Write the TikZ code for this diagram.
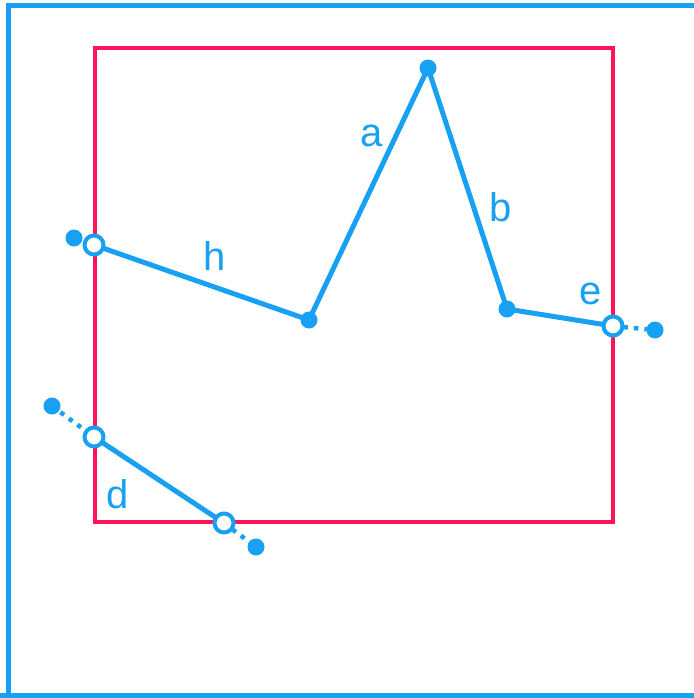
\documentclass[tikz,border=0pt]{standalone}
\usepackage{fontspec}
\setmainfont{Liberation Sans}
\definecolor{bl}{RGB}{24,160,242}
\definecolor{rd}{RGB}{255,20,90}
\begin{document}
\begin{tikzpicture}[x=1pt,y=-1pt,
  seg/.style={bl,line width=5pt},
  dots/.style={bl,line width=4.5pt,dash pattern=on 4.5pt off 6pt},
  fdot/.style={circle,fill=bl,inner sep=0pt,minimum size=17pt},
  odot/.style={circle,draw=bl,fill=white,line width=4pt,inner sep=0pt,minimum size=19pt},
  lbl/.style={text=bl,font=\fontsize{40}{40}\selectfont,inner sep=0pt}]
\useasboundingbox (0,0) rectangle (693,698);
\draw[bl,line width=5pt] (8.5,730) -- (8.5,5.5) -- (730,5.5);
\draw[bl,line width=5pt] (0,695.5) -- (730,695.5);
\draw[rd,line width=4pt] (95,48) rectangle (613,522);
% chain
\node[fdot] (h0) at (74,238) {};
\node[fdot] (v1) at (309,320) {};
\node[fdot] (v2) at (428,68) {};
\node[fdot] (v3) at (507,309) {};
\node[fdot] (e0) at (655,330) {};
\node[fdot] (d0) at (52,406) {};
\node[fdot] (d3) at (256,547) {};
\coordinate (h1) at (94,245);
\coordinate (e1) at (613,326);
\coordinate (d1) at (94,437);
\coordinate (d2) at (224,523);
\draw[seg] (h1) -- (v1.center) -- (v2.center) -- (v3.center) -- (e1);
\draw[seg] (d1) -- (d2);
\draw[dots] (e1) -- (e0.center);
\draw[dots] (d0.center) -- (d1);
\draw[dots] (d2) -- (d3.center);
\node[odot] (oh) at (h1) {};
\node[odot] (oe) at (e1) {};
\node[odot] (od1) at (d1) {};
\node[odot] (od2) at (d2) {};
\node[lbl] (la) at (372,136) {a};
\node[lbl] (lb) at (501,207) {b};
\node[lbl] (lh) at (215,256) {h};
\node[lbl] (le) at (591,294) {e};
\node[lbl] (ld) at (118,494) {d};
\end{tikzpicture}
\end{document}
